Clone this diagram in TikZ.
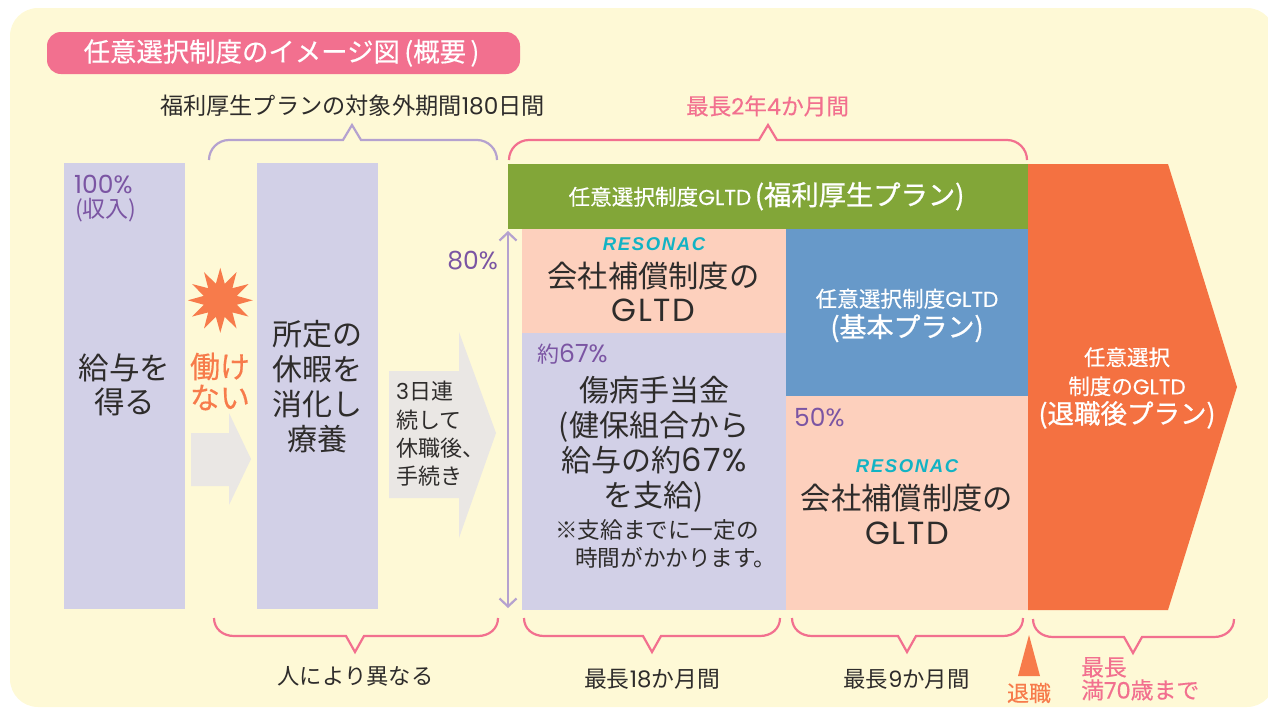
\documentclass[tikz,border=0pt]{standalone}
\usepackage{fontspec}
\usetikzlibrary{shapes.geometric,arrows.meta}
\setmainfont{Noto Sans CJK JP}
\newfontfamily\logofont[LetterSpace=9]{Liberation Sans}
\newfontfamily\latr{Poppins}
\newfontfamily\latw[LetterSpace=5]{Poppins}
\newfontfamily\latm[FakeBold=0.35]{Poppins}
\newfontfamily\jpm[FakeBold=0.35]{Noto Sans CJK JP}
\newfontfamily\jph[FakeBold=0.9]{Noto Sans CJK JP}
\newcommand{\ltn}[1]{{\latr #1}}
\newcommand{\ltm}[1]{{\latm #1}}
\newcommand{\ltw}[1]{{\fontsize{32}{35}\latw #1}}
\definecolor{cream}{HTML}{FEF9D6}
\definecolor{lilac}{HTML}{D2D0E7}
\definecolor{leaf}{HTML}{82A638}
\definecolor{peach}{HTML}{FDD0BD}
\definecolor{skyb}{HTML}{6799C9}
\definecolor{flame}{HTML}{F47141}
\definecolor{burst}{HTML}{F77B4B}
\definecolor{arrowgrey}{HTML}{EAE7E4}
\definecolor{rose}{HTML}{F2708F}
\definecolor{lav}{HTML}{B5A2CF}
\definecolor{purp}{HTML}{7B55A3}
\definecolor{ink}{HTML}{2E2C2B}
\definecolor{teal}{HTML}{12B3C4}
\newcommand{\fs}[2]{\fontsize{#1}{#2}\selectfont}
\newcommand{\topbrace}[4]{% colour, x1, x2, xm
  \draw[#1,line width=2.2pt,line join=miter] (#2,160) .. controls (#2,149) and (#2+9,140) .. (#2+20,140)
    -- (#4-9,140) -- (#4,125) -- (#4+9,140) -- (#3-20,140) .. controls (#3-9,140) and (#3,149) .. (#3,160);}
\newcommand{\botbrace}[4]{% x1, x2, xm, ytop
  \draw[rose,line width=2.2pt,line join=miter] (#1,#4-18) .. controls (#1,#4-7) and (#1+9,#4) .. (#1+20,#4)
    -- (#3-9,#4) -- (#3,#4+16) -- (#3+9,#4) -- (#2-20,#4) .. controls (#2-9,#4) and (#2,#4-7) .. (#2,#4-18);}
\tikzset{
  x=1pt,y=-1pt,
  txt/.style={inner sep=0pt,align=center,text=ink},
  lbl/.style={inner sep=0pt,text=purp,align=left},
  whitetxt/.style={inner sep=0pt,text=white,align=center},
  rosetxt/.style={inner sep=0pt,text=rose,align=left},
  logotxt/.style={inner sep=0pt,text=teal,font=\logofont\fs{18.5}{18}\bfseries\itshape},
  mainarrow/.style={lav,line width=2.2pt,{Straight Barb[length=8pt,width=17pt,line width=2.2pt]}-{Straight Barb[length=8pt,width=17pt,line width=2.2pt]}},
}
\begin{document}
\begin{tikzpicture}
\useasboundingbox (0,0) rectangle (1268,707);
\clip (0,0) rectangle (1268,707);
\fill[cream,rounded corners=28pt] (10,8) rectangle (1275,707);

% title
\fill[rose,rounded corners=14pt] (47,32) rectangle (520,74);
\node[whitetxt,font=\jpm\fs{26.4}{30}] (title) at (281.5,53) {任意選択制度のイメージ図\,(概要\,)};

% top braces
\node[txt,font=\fs{23.2}{26}] (t180) at (352.5,106) {福利厚生プランの対象外期間\ltn{180}日間};
\node[rosetxt,font=\jpm\fs{22.6}{26}] (t2y) at (767.5,106) {最長\ltm{2}年\ltm{4}か月間};
\topbrace{lav}{209}{497}{352}
\topbrace{rose}{509}{1027}{768}

% left columns
\fill[lilac] (64,163) rectangle (185,609);
\node[lbl,font=\latr\fs{25}{24},anchor=north west] (p100) at (74,175) {100\%\\\hspace*{1pt}\rmfamily\fs{23}{24}(収入)};
\node[txt,font=\fs{30.5}{34}] (kyuyo) at (124.5,385) {給与を\\得る};
\fill[lilac] (257,163) rectangle (378,609);
\node[txt,font=\fs{30}{35}] (shotei) at (317,387) {所定の\\休暇を\\消化し\\療養};

% burst and small arrow
\node[star,star points=12,star point ratio=1.9,fill=burst,minimum size=65pt,inner sep=0pt,outer sep=0pt] (burstn) at (220.3,300.3) {};
\node[inner sep=0pt,text=burst,align=center,font=\jpm\fs{30}{31}] (hatarakenai) at (220,381.5) {働け\\ない};
\fill[arrowgrey] (191,433) -- (229,433) -- (229,413) -- (251,459) -- (229,505) -- (229,486) -- (191,486) -- cycle;

% large arrow
\fill[arrowgrey] (389,371) -- (459,371) -- (459,332) -- (496,433) -- (459,538) -- (459,498) -- (389,498) -- cycle;
\node[txt,align=left,anchor=west,font=\fs{22}{28.3}] (sanjitsu) at (396,434) {\ltn{3}日連\\続して\\休職後、\\手続き};

% 80% arrow
\coordinate (atop) at (508,231);
\coordinate (abot) at (508,608);
\draw[mainarrow] (atop) -- (abot);
\node[lbl,font=\latr\fs{25}{24}] (p80) at (472.5,261) {80\%};

% blocks
\fill[leaf] (508,164) rectangle (1028,229);
\fill[peach] (522,229) rectangle (786,333);
\fill[lilac] (522,333) rectangle (786,610);
\fill[skyb] (786,229) rectangle (1028,396);
\fill[peach] (786,396) rectangle (1028,610);
\fill[flame] (1028,164) -- (1168,164) -- (1237,387) -- (1168,610) -- (1028,610) -- cycle;

% green bar
\node[whitetxt,anchor=base,font=\jpm\fs{21.6}{24}] (gbar) at (766.5,205) {任意選択制度\ltm{GLTD}\,\jph\fs{27.3}{24}(福利厚生プラン)};

% peach top
\node[logotxt] (logoa) at (654,244) {RESONAC};
\node[txt,font=\fs{30.3}{34}] (kaisha1) at (653.5,292) {会社補償制度の\\\ltw{GLTD}};

% lilac block
\node[lbl,font=\fs{22}{24},anchor=west] (p67) at (537,354) {約{\latr\fs{25}{24}67\%}};
\node[txt,font=\fs{30}{35}] (shobyo) at (654,444) {傷病手当金\\(健保組合から\\給与の約\ltw{67\%}\\を支給)};
\node[txt,align=left,anchor=north west,font=\fs{22.6}{28}] (note) at (555,519) {※支給までに一定の\\\hspace*{20pt}時間がかかります。};

% blue block
\node[whitetxt,font=\jpm\fs{21.6}{30}] (kihon) at (907,315.5) {任意選択制度\ltm{GLTD}\\\jph\fs{27}{30}(基本プラン)};

% peach bottom
\node[lbl,font=\latr\fs{25}{24},anchor=west] (p50) at (794,417) {50\%};
\node[logotxt] (logob) at (907,466) {RESONAC};
\node[txt,font=\fs{30.3}{35}] (kaisha2) at (907,514.5) {会社補償制度の\\\ltw{GLTD}};

% orange arrow
\node[whitetxt,font=\jpm\fs{21.5}{29}] (taishoku) at (1127,388) {任意選択\\制度の\ltm{GLTD}\\\jph\fs{26.5}{29}(退職後プラン)};

% bottom braces and labels
\botbrace{214}{498}{355}{636}
\botbrace{524}{780}{652}{636}
\botbrace{792}{1023}{907}{636}
\botbrace{1033}{1234}{1133}{637}
\node[txt,font=\fs{22.3}{26}] (hito) at (355.5,676) {人により異なる};
\node[txt,font=\fs{22.8}{26}] (m18) at (652,679) {最長\ltn{18}か月間};
\node[txt,font=\fs{22.4}{26}] (m9) at (906.5,679) {最長\ltn{9}か月間};
\fill[burst] (1029,635) -- (1040,676) -- (1018,676) -- cycle;
\node[inner sep=0pt,text=burst,font=\jpm\fs{22}{26}] (retire) at (1029,693) {退職};
\node[rosetxt,anchor=north west,font=\jpm\fs{22.8}{23}] (saicho) at (1081,657) {最長\\満\ltm{70}歳まで};
\end{tikzpicture}
\end{document}
